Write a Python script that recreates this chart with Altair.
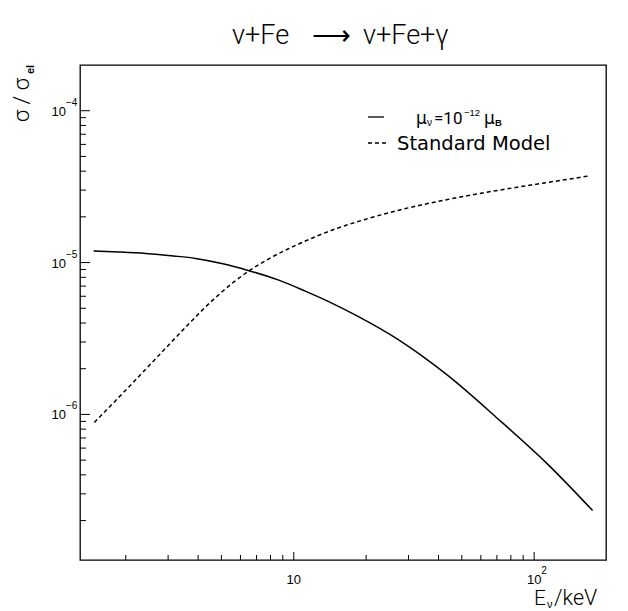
import altair as alt
import pandas as pd

# ---- data ----
mu_E = [1.47, 1.87, 2.42, 3.16, 3.90, 5.01, 6.46, 8.61, 11.1, 13.9, 18.5, 27.1, 43.7, 70.4, 114, 175]
mu_sigma = [1.193e-5, 1.175e-5, 1.149e-5, 1.106e-5, 1.065e-5, 9.87e-6, 8.88e-6, 7.69e-6,
            6.51e-6, 5.55e-6, 4.42e-6, 3.12e-6, 1.806e-6, 9.41e-7, 4.69e-7, 2.33e-7]
sm_E = [1.48, 2.05, 2.82, 3.64, 4.54, 5.60, 6.46, 8.21, 10.4, 14.3, 19.8, 27.1, 43.7, 70.4, 114, 170]
sm_sigma = [8.86e-7, 1.506e-6, 2.561e-6, 3.914e-6, 5.55e-6, 7.40e-6, 8.74e-6, 1.098e-5,
            1.317e-5, 1.628e-5, 1.924e-5, 2.205e-5, 2.604e-5, 2.986e-5, 3.372e-5, 3.72e-5]

x_major = [10, 100]
x_minor = [2, 3, 4, 5, 6, 7, 8, 9, 20, 30, 40, 50, 60, 70, 80, 90]
y_major = [1e-6, 1e-5, 1e-4]
y_minor = [2e-7, 3e-7, 4e-7, 5e-7, 6e-7, 7e-7, 8e-7, 9e-7,
           2e-6, 3e-6, 4e-6, 5e-6, 6e-6, 7e-6, 8e-6, 9e-6,
           2e-5, 3e-5, 4e-5, 5e-5, 6e-5, 7e-5, 8e-5, 9e-5]
y_exponents = ["−6", "−5", "−4"]
x_label_vals = [10, 100]
x_label_mant = ["10", "10"]
x_label_exp = ["", "2"]

W, H = 526, 495
FONT = "Liberation Sans"
TF = "Roboto"
xs = alt.Scale(type="log", domain=[1.29, 199], nice=False)
ys = alt.Scale(type="log", domain=[1.1e-7, 2e-4], nice=False)

mu_df = pd.DataFrame({"E": mu_E, "s": mu_sigma})
sm_df = pd.DataFrame({"E": sm_E, "s": sm_sigma})

mu_line = alt.Chart(mu_df).mark_line(color="black", strokeWidth=1.5, interpolate="monotone").encode(
    x=alt.X("E:Q", scale=xs, axis=None), y=alt.Y("s:Q", scale=ys, axis=None))
sm_line = alt.Chart(sm_df).mark_line(color="black", strokeWidth=1.5, strokeDash=[4, 3],
                                     interpolate="monotone").encode(
    x=alt.X("E:Q", scale=xs, axis=None), y=alt.Y("s:Q", scale=ys, axis=None))

ymaj = alt.Chart(pd.DataFrame({"v": y_major})).mark_rule(color="black", strokeWidth=1).encode(
    y=alt.Y("v:Q", scale=ys, axis=None), x=alt.value(0), x2=alt.value(10))
ymin = alt.Chart(pd.DataFrame({"v": y_minor})).mark_rule(color="black", strokeWidth=1).encode(
    y=alt.Y("v:Q", scale=ys, axis=None), x=alt.value(0), x2=alt.value(6))
xmaj = alt.Chart(pd.DataFrame({"e": x_major})).mark_rule(color="black", strokeWidth=1).encode(
    x=alt.X("e:Q", scale=xs, axis=None), y=alt.value(H), y2=alt.value(H - 8))
xmin = alt.Chart(pd.DataFrame({"e": x_minor})).mark_rule(color="black", strokeWidth=1).encode(
    x=alt.X("e:Q", scale=xs, axis=None), y=alt.value(H), y2=alt.value(H - 5))

ylab_df = pd.DataFrame({"v": y_major, "m": ["10"] * 3, "p": y_exponents})
ylab_m = alt.Chart(ylab_df).mark_text(font=FONT, fontSize=13, align="right", baseline="alphabetic",
                                      dy=5, color="black").encode(
    y=alt.Y("v:Q", scale=ys, axis=None), x=alt.value(-14), text="m:N")
ylab_p = alt.Chart(ylab_df).mark_text(font=FONT, fontSize=10, align="left", baseline="alphabetic",
                                      dy=-5, color="black").encode(
    y=alt.Y("v:Q", scale=ys, axis=None), x=alt.value(-14), text="p:N")

xlab_df = pd.DataFrame({"e": x_label_vals, "m": x_label_mant, "p": x_label_exp})
xlab_m = alt.Chart(xlab_df).mark_text(font=FONT, fontSize=13, align="center", baseline="alphabetic",
                                      color="black").encode(
    x=alt.X("e:Q", scale=xs, axis=None), y=alt.value(H + 24), text="m:N")
xlab_p = alt.Chart(xlab_df).mark_text(font=FONT, fontSize=10, align="left", baseline="alphabetic",
                                      dx=7, color="black").encode(
    x=alt.X("e:Q", scale=xs, axis=None), y=alt.value(H + 14), text="p:N")

one = pd.DataFrame({"a": [0]})


def txt(t, x, y, size, align="left", angle=0, font=FONT, weight="normal"):
    return alt.Chart(one).mark_text(text=t, font=font, fontSize=size, align=align,
                                    baseline="alphabetic", angle=angle, fontWeight=weight,
                                    color="black").encode(x=alt.value(x), y=alt.value(y))


def seg(x1, x2, y, dash=None):
    kw = {"strokeDash": dash} if dash else {}
    return alt.Chart(one).mark_rule(color="black", strokeWidth=1.3, **kw).encode(
        x=alt.value(x1), x2=alt.value(x2), y=alt.value(y))


title = [
    txt("ν+Fe", 152, -21, 27, font=TF, weight=300),
    txt("⟶", 251, -21, 27, align="center", font="DejaVu Sans", weight=300),
    txt("ν+Fe+γ", 283, -21, 27, font=TF, weight=300),
]
ytitle = [
    txt("σ / σ", -51, 57, 22, angle=270, font=TF, weight=300),
    txt("el", -46, 9, 11, angle=270, font=FONT, weight="bold"),
]
xtitle = [
    txt("E", 454, 540, 21, font=TF, weight=300),
    txt("ν", 467, 543, 11, font=FONT),
    txt("/keV", 474, 540, 21.5, font=TF, weight=300),
]
legend = [
    seg(288, 304, 52),
    txt("μ", 336, 59, 17, font="DejaVu Sans"),
    txt("ν", 347, 61, 10, font=FONT),
    txt("=10", 354, 59, 17, font=TF),
    txt("−12", 384, 51, 9.5, font=FONT),
    txt("μ", 404, 59, 17, font="DejaVu Sans"),
    txt("B", 415, 61, 9.5, font=FONT, weight="bold"),
    seg(288, 306, 78, dash=[4, 3]),
    txt("Standard Model", 317, 85, 19.5, font="DejaVu Sans"),
]

chart = alt.layer(
    mu_line, sm_line, ymaj, ymin, xmaj, xmin, ylab_m, ylab_p, xlab_m, xlab_p,
    *title, *ytitle, *xtitle, *legend
).properties(
    width=W, height=H,
    background="white",
    autosize=alt.AutoSizeParams(type="none"),
    padding={"left": 72, "top": 57, "right": 14, "bottom": 51},
).configure_view(stroke="black", strokeWidth=1.3)

chart.save("out.html", embed_options={"renderer": "svg", "actions": False})
